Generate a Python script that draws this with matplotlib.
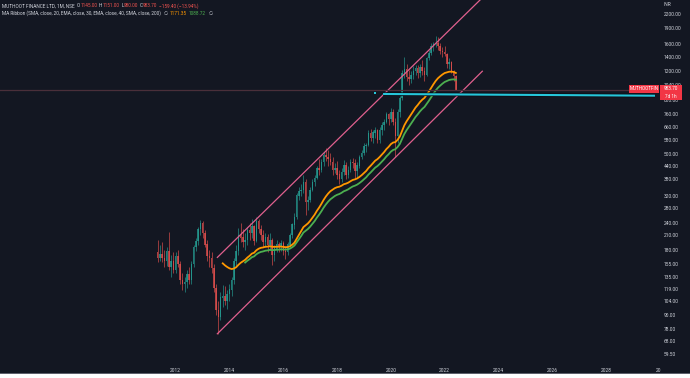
import numpy as np
import matplotlib
matplotlib.use("Agg")
import matplotlib.pyplot as plt
from matplotlib.patches import Rectangle
from matplotlib.ticker import NullLocator

plt.rcParams["font.family"] = ["Roboto", "DejaVu Sans"]

# monthly bars, May 2011 .. Jun 2022
start_year, start_month = 2011, 5
highs = [200, 190, 195, 180, 185, 217, 170, 175,
         175, 180, 160, 140, 135, 145, 150, 160, 190, 205, 230, 247,
         245, 222, 200, 180, 175, 155, 125, 105, 115, 124, 122, 118,
         125, 135, 165, 190, 228, 240, 225, 215, 230, 240, 250, 235,
         255, 250, 235, 222, 215, 212, 215, 205, 190, 200, 195, 200,
         198, 185, 195, 215, 240, 265, 330, 350, 360, 400, 380, 320,
         350, 380, 400, 440, 470, 470, 510, 530, 520, 505, 480, 450,
         460, 420, 430, 465, 455, 440, 470, 475, 470, 455, 490, 520,
         560, 560, 640, 650, 640, 660, 650, 660, 700, 720, 780, 770,
         810, 800, 730, 800, 920, 1220, 1390, 1300, 1210, 1200, 1260, 1280,
         1280, 1300, 1350, 1250, 1400, 1500, 1620, 1640, 1745, 1720, 1620, 1550,
         1560, 1460, 1380, 1330, 1220, 1151]
lows = [158, 160, 158, 150, 152, 145, 135, 140,
        140, 150, 125, 118, 115, 120, 125, 125, 150, 178, 190, 210,
        205, 185, 160, 150, 140, 115, 90, 74, 85, 98, 100, 96,
        105, 110, 125, 150, 170, 195, 185, 180, 190, 200, 205, 190,
        195, 215, 200, 185, 185, 175, 180, 153, 160, 175, 175, 178,
        170, 163, 170, 185, 205, 225, 250, 305, 320, 330, 260, 275,
        300, 335, 355, 380, 400, 410, 440, 460, 440, 445, 400, 405,
        380, 360, 370, 400, 380, 385, 410, 430, 380, 385, 430, 470,
        490, 510, 540, 570, 560, 590, 560, 560, 610, 640, 690, 680,
        700, 680, 480, 560, 740, 880, 1120, 1080, 1030, 1060, 1100, 1150,
        1120, 1130, 1150, 1080, 1140, 1350, 1420, 1480, 1550, 1500, 1440, 1400,
        1410, 1240, 1230, 1170, 1080, 980]
closes = [165, 172, 165, 160, 178, 150, 160, 145,
          168, 155, 130, 125, 128, 138, 130, 155, 185, 198, 225, 238,
          215, 190, 168, 165, 148, 120, 95, 88, 108, 110, 104, 112,
          118, 130, 160, 178, 210, 205, 195, 200, 222, 215, 230, 198,
          245, 225, 210, 195, 205, 190, 200, 170, 182, 190, 185, 192,
          178, 175, 190, 210, 235, 255, 320, 335, 340, 370, 300, 305,
          340, 370, 385, 430, 420, 455, 490, 480, 470, 455, 420, 430,
          400, 380, 410, 440, 400, 420, 455, 450, 415, 440, 480, 505,
          540, 545, 620, 590, 625, 640, 580, 640, 680, 700, 760, 720,
          780, 700, 600, 780, 900, 1180, 1220, 1130, 1100, 1150, 1200, 1240,
          1170, 1250, 1200, 1150, 1380, 1450, 1560, 1600, 1620, 1560, 1480, 1470,
          1440, 1300, 1320, 1200, 1143.1, 983.7]
first_open = 175

year_ticks = [2012, 2014, 2016, 2018, 2020, 2022, 2024, 2026, 2028]
price_ticks = [2200, 1900, 1600, 1400, 1200, 1040, 880, 760, 660, 580, 500, 440,
               380, 320, 280, 240, 210, 180, 155, 135, 119, 104, 90, 78, 68, 59.5]

# drawings
channel_x = [2013.55, 2023.40]
channel_upper = [166, 2613]
channel_lower = [73.8, 1198]
support_x = [2019.71, 2029.82]
support_y = [941, 924]
last_close = 983.7

BG = "#131722"
TXT = "#d1d4dc"
UP = "#26a69a"
DOWN = "#ef5350"

n = len(closes)
t = np.array([start_year + (start_month - 1 + i) / 12 for i in range(n)])
closes_a = np.array(closes, dtype=float)
opens_a = np.concatenate([[first_open], closes_a[:-1]])


def ema(vals, length):
    out = np.full(len(vals), np.nan)
    alpha = 2 / (length + 1)
    for i in range(len(vals)):
        if i == length - 1:
            out[i] = vals[:length].mean()
        elif i >= length:
            out[i] = alpha * vals[i] + (1 - alpha) * out[i - 1]
    return out


ema30 = ema(closes_a, 30)
ema40 = ema(closes_a, 40)

W, H = 690, 378
fig = plt.figure(figsize=(W / 100, H / 100), dpi=100, facecolor=BG)
ax = fig.add_axes([0, 14 / H, 655 / W, 364 / H])
ax.set_facecolor(BG)
ax.set_yscale("log")
ax.set_xlim(2005.47, 2029.82)
ax.set_ylim(53.55, 2552)
for s in ax.spines.values():
    s.set_visible(False)

up = closes_a >= opens_a
cols = np.where(up, UP, DOWN)
ax.vlines(t, lows, highs, colors=cols, lw=0.6, alpha=0.7)
ax.bar(t, np.abs(closes_a - opens_a) + 0.5, bottom=np.minimum(opens_a, closes_a),
       width=0.055, color=cols, alpha=0.7, linewidth=0)

ax.plot(t, ema40, color="#4caf50", lw=1.3)
ax.plot(t, ema30, color="#ff9800", lw=1.3)

ax.plot(channel_x, channel_upper, color="#e0608e", lw=0.9)
ax.plot(channel_x, channel_lower, color="#e0608e", lw=0.9)

ax.axhline(last_close, color="#4a2f3a", lw=0.9)
ax.plot(support_x, support_y, color="#0b0e15", lw=2.6, solid_capstyle="butt")
ax.plot(support_x, support_y, color="#26c6da", lw=1.5, solid_capstyle="butt")
ax.plot([2019.40], [954], marker="s", ms=1.6, color="#26c6da", mew=0)

ax.set_xticks(year_ticks)
ax.set_xticklabels([str(y) for y in year_ticks])
ax.yaxis.tick_right()
ax.set_yticks(price_ticks)
ax.set_yticklabels([f"{v:.2f}" for v in price_ticks])
ax.yaxis.set_minor_locator(NullLocator())
ax.tick_params(axis="x", length=0, pad=3, labelsize=3.5, labelcolor=TXT)
ax.tick_params(axis="y", length=0, pad=6.5, labelsize=3.5, labelcolor=TXT)


def fx(px):
    return px / W


def fy(py):
    return 1 - py / H


fig.text(fx(664), fy(5), "INR", fontsize=3.5, color=TXT, va="center")
fig.text(fx(656), fy(370), "20", fontsize=3.5, color=TXT, va="center")

# last price labels
fig.add_artist(Rectangle((fx(629), fy(92.5)), fx(30), 7.5 / H, transform=fig.transFigure,
                         color="#f23645", lw=0))
fig.add_artist(Rectangle((fx(660), fy(99.5)), fx(22), 14.5 / H, transform=fig.transFigure,
                         color="#f23645", lw=0))
fig.text(fx(644), fy(88.8), "MUTHOOTFIN", fontsize=3.3, color="white", ha="center", va="center")
fig.text(fx(671), fy(88.8), "983.70", fontsize=3.4, color="white", ha="center", va="center")
fig.text(fx(671), fy(96), "7d 1h", fontsize=3.3, color="white", ha="center", va="center")

# legend lines, placed piece by piece
renderer = fig.canvas.get_renderer()
ribbon = "MA Ribbon (SMA, close, 20, EMA, close, 30, EMA, close, 40, SMA, close, 200)"
probe = fig.text(0, 0, ribbon, fontsize=10)
leg_size = 10 * 161 / probe.get_window_extent(renderer).width
probe.remove()


def text_row(x, y, parts):
    for s, c, gap in parts:
        tx = fig.text(fx(x), fy(y), s, fontsize=leg_size, color=c, va="center")
        x += tx.get_window_extent(renderer).width + gap


text_row(2, 5.7, [("MUTHOOT FINANCE LTD, 1M, NSE", TXT, 2.5),
                  ("O", TXT, 0.2), ("1145.00", DOWN, 1.5),
                  ("H", TXT, 0.2), ("1151.00", DOWN, 1.5),
                  ("L", TXT, 0.2), ("980.00", DOWN, 1.5),
                  ("C", TXT, 0.2), ("983.70", DOWN, 1.5),
                  ("\u2212159.40 (\u221213.94%)", DOWN, 0)])
text_row(2, 13.3, [(ribbon, TXT, 2.5), ("\u2205", TXT, 2.5),
                   ("1171.35", "#ff9800", 2), ("1088.72", "#4caf50", 2.5),
                   ("\u2205", TXT, 0)])

# bottom strip of the screenshot
fig.add_artist(Rectangle((0, 0), 1, 4 / H, transform=fig.transFigure, color="white", lw=0))
fig.add_artist(Rectangle((0, 4 / H), 1, 1 / H, transform=fig.transFigure, color="#5d606b", lw=0))

fig.savefig("out.png", dpi=100, facecolor=BG)
